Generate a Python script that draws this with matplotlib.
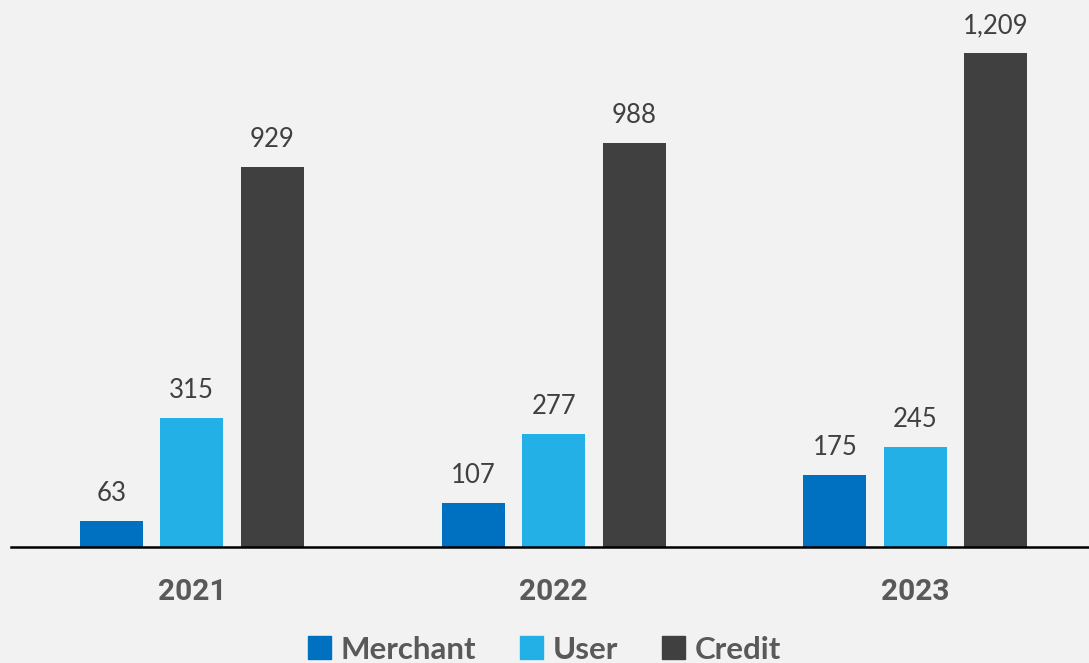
import numpy as np
import matplotlib.pyplot as plt
from matplotlib.patches import Patch

years = ["2021", "2022", "2023"]
series = ["Merchant", "User", "Credit"]
merchant = [63, 107, 175]
user = [315, 277, 245]
credit = [929, 988, 1209]

colors = ["#0070C0", "#22B0E6", "#404040"]
bg = "#F2F2F2"

fig = plt.figure(figsize=(10.89, 6.63), dpi=100, facecolor=bg)
ax = fig.add_axes([0.0101, 0.175, 0.9899, 0.825], facecolor=bg)

x = np.arange(len(years))
w = 0.174
off = 0.2227
for i, (vals, c) in enumerate(zip([merchant, user, credit], colors)):
    bars = ax.bar(x + (i - 1) * off, vals, width=w, color=c)
    ax.bar_label(bars, labels=[f"{v:,}" for v in vals], padding=11,
                 fontsize=18.5, color="#404040", family="Lato", fontweight="normal")

ax.set_xlim(-0.5, 2.48)
ax.set_ylim(0, 1339)
ax.set_yticks([])
ax.set_xticks(x)
ax.set_xticklabels(years, fontsize=21.5, fontweight="bold", color="#595959", family="Roboto")
ax.tick_params(axis="x", length=0, pad=22)
for s in ["top", "right", "left"]:
    ax.spines[s].set_visible(False)
ax.spines["bottom"].set_linewidth(1.8)
ax.spines["bottom"].set_color("#000000")

handles = [Patch(color=c, label=s) for s, c in zip(series, colors)]
fig.legend(handles=handles, loc="center", bbox_to_anchor=(0.5, 0.02), ncol=3,
           frameon=False, handlelength=0.75, handleheight=0.75, handletextpad=0.3,
           columnspacing=1.4, prop={"family": "Lato", "weight": "bold", "size": 22.5},
           labelcolor="#595959")

fig.savefig("out.png", dpi=100, facecolor=bg)
